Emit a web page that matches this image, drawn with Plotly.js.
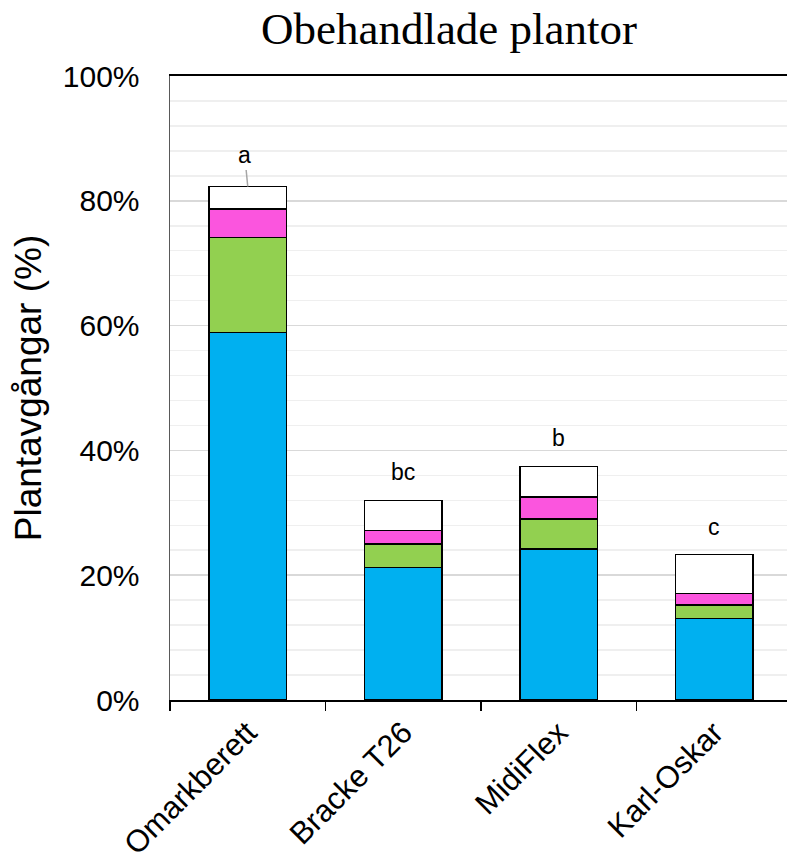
<!DOCTYPE html>
<html>
<head>
<meta charset="utf-8">
<script src="https://cdn.plot.ly/plotly-3.0.1.min.js"></script>
<style>html,body{margin:0;padding:0;background:#fff;}#chart{width:787px;height:862px;}</style>
</head>
<body>
<div id="chart"></div>
<script>
const categories = ["Omarkberett", "Bracke T26", "MidiFlex", "Karl-Oskar"];
const blueVals  = [0.589, 0.212, 0.242, 0.131];
const greenVals = [0.152, 0.038, 0.048, 0.021];
const pinkVals  = [0.046, 0.022, 0.035, 0.019];
const whiteVals = [0.036, 0.048, 0.049, 0.062];
const letters   = ["a", "bc", "b", "c"];
const letterY   = [0.873, 0.365, 0.420, 0.277];
const yTicks    = [0, 0.2, 0.4, 0.6, 0.8, 1.0];

const seriesList = [
  {v: blueVals,  c: "#00B0F0"},
  {v: greenVals, c: "#92D050"},
  {v: pinkVals,  c: "#FB55DE"},
  {v: whiteVals, c: "#FFFFFF"}
];

const data = seriesList.map(s => ({
  type: "bar",
  x: categories,
  y: s.v,
  width: 0.5,
  marker: {color: s.c, line: {color: "#000", width: 1.5}},
  hoverinfo: "skip",
  showlegend: false
}));

const totals = categories.map((_, i) => blueVals[i] + greenVals[i] + pinkVals[i] + whiteVals[i]);

const annotations = categories.map((c, i) => {
  if (i === 0) {
    return {x: c, y: totals[i], xref: "x", yref: "y", text: letters[i],
      showarrow: true, arrowhead: 0, arrowcolor: "#A6A6A6", arrowwidth: 1.5,
      ax: -3, ay: -31, standoff: 0,
      font: {family: "Liberation Sans, Arial, sans-serif", size: 23, color: "#000"}};
  }
  return {x: c, y: letterY[i], xref: "x", yref: "y", text: letters[i], showarrow: false,
    font: {family: "Liberation Sans, Arial, sans-serif", size: 23, color: "#000"}};
});

const layout = {
  width: 787, height: 862,
  margin: {l: 170, r: 0, t: 76, b: 162, pad: 0},
  paper_bgcolor: "#fff", plot_bgcolor: "#fff",
  barmode: "stack",
  title: {text: "Obehandlade plantor", font: {family: "Liberation Serif, Times New Roman, serif", size: 45, color: "#000"},
    xref: "paper", x: (449 - 170) / 617, xanchor: "center", yref: "container", y: 1 - 28 / 862, yanchor: "middle"},
  xaxis: {
    type: "category", range: [-0.5, 3.468],
    showline: true, linecolor: "#000", linewidth: 2, mirror: true,
    ticks: "outside", ticklen: 9, tickwidth: 1.5, tickcolor: "#000", tickson: "boundaries",
    tickangle: -45, showgrid: false, zeroline: false,
    tickfont: {family: "Liberation Sans, Arial, sans-serif", size: 31, color: "#000"}
  },
  yaxis: {
    range: [0, 1], tickvals: yTicks, tickformat: ".0%",
    showline: true, linecolor: "#595959", linewidth: 1.5,
    ticks: "", ticklabelstandoff: 23,
    showgrid: true, gridcolor: "#D9D9D9", gridwidth: 1.5, zeroline: false,
    minor: {dtick: 0.04, showgrid: true, gridcolor: "#EFEFEF", gridwidth: 1.5},
    tickfont: {family: "Liberation Sans, Arial, sans-serif", size: 30, color: "#000"},
    title: {text: "Plantavgångar (%)", standoff: 10,
      font: {family: "Liberation Sans, Arial, sans-serif", size: 37, color: "#000"}}
  },
  annotations: annotations
};

Plotly.newPlot("chart", data, layout, {displayModeBar: false, staticPlot: true});
</script>
</body>
</html>
